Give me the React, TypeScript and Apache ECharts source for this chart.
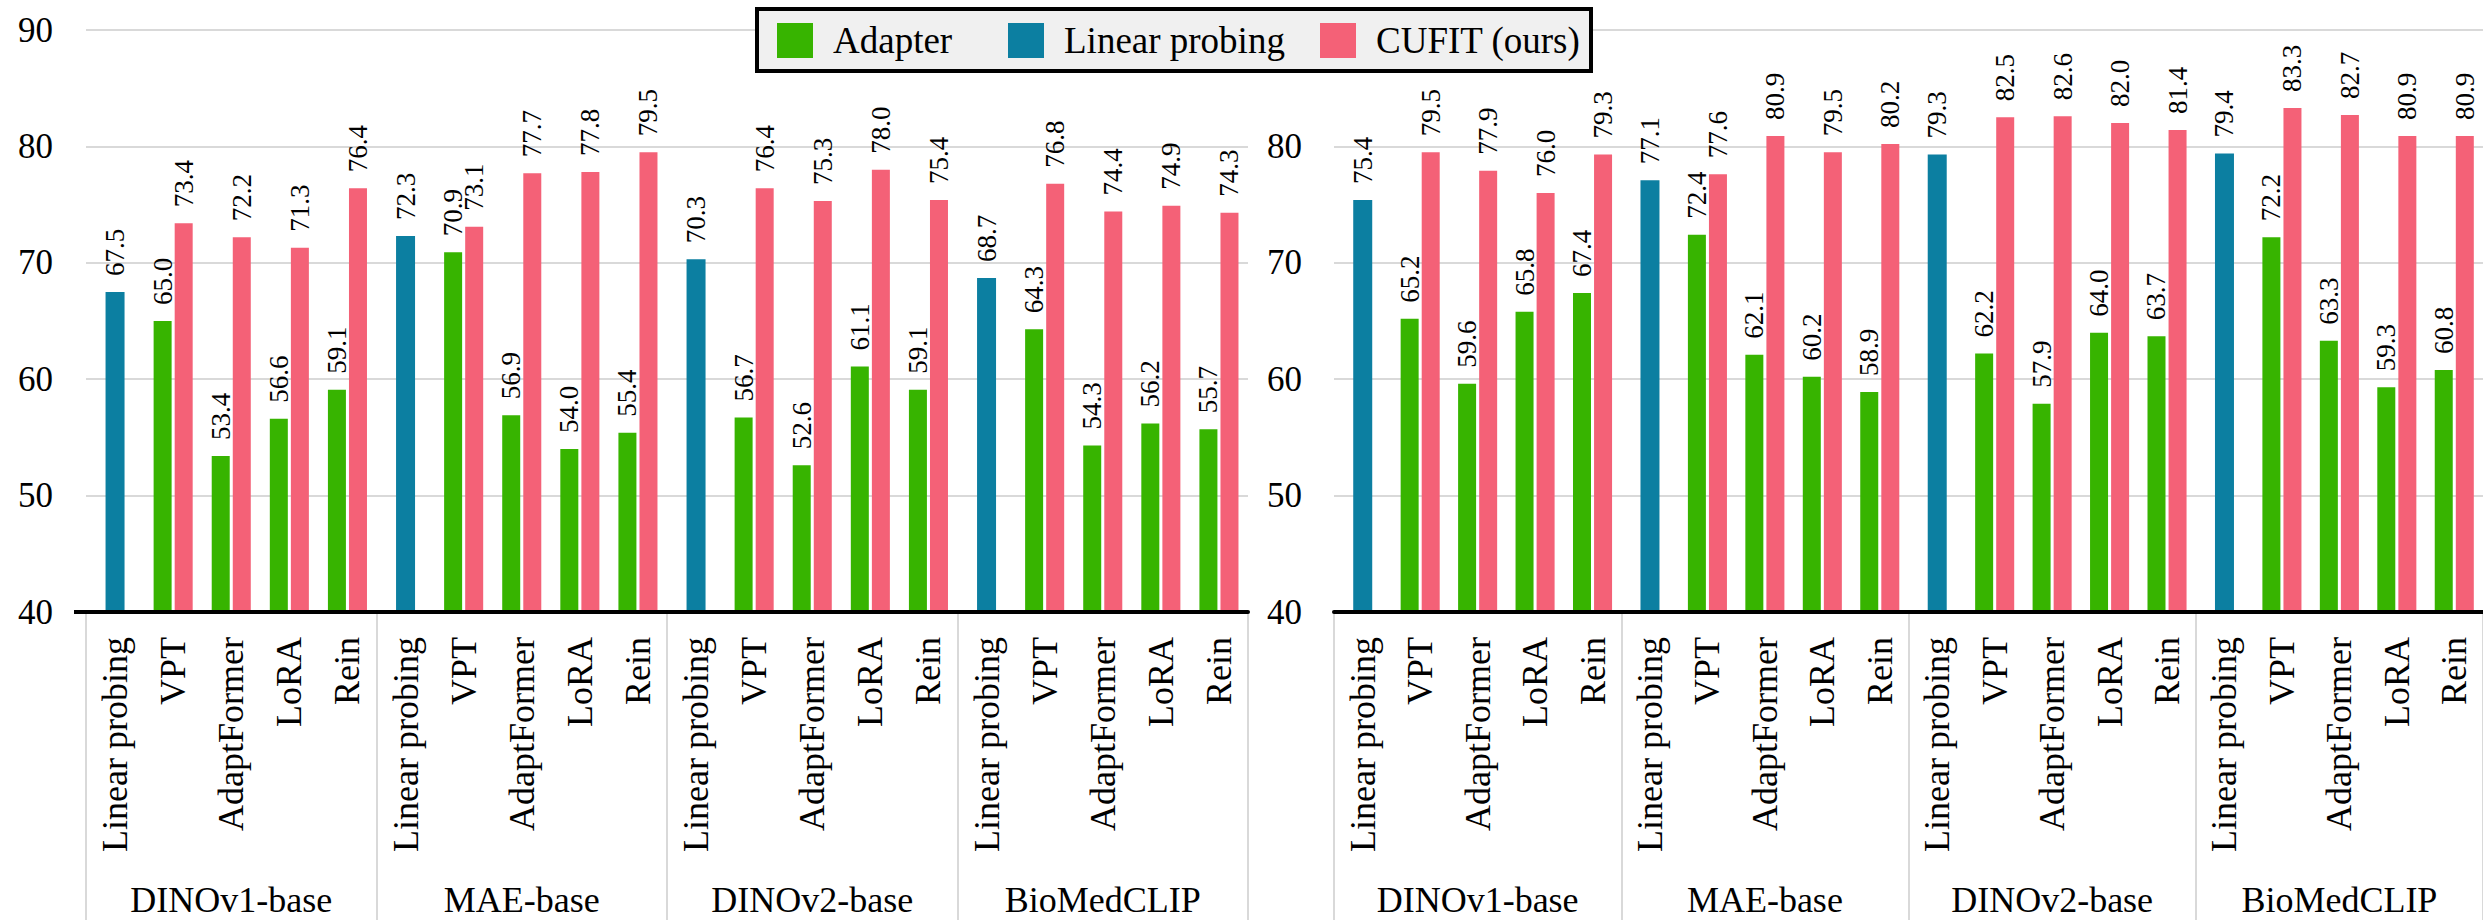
import React, { useEffect, useRef } from "react";
import * as echarts from "echarts";

// ---------- data ----------
const backbones = ["DINOv1-base", "MAE-base", "DINOv2-base", "BioMedCLIP"];
const methods = ["Linear probing", "VPT", "AdaptFormer", "LoRA", "Rein"];
const yMin = 40;
const yMax = 90;
const yStep = 10;

// left panel
const leftLinear = [67.5, 72.3, 70.3, 68.7];
const leftAdapter = [65.0, 53.4, 56.6, 59.1, 70.9, 56.9, 54.0, 55.4, 56.7, 52.6, 61.1, 59.1, 64.3, 54.3, 56.2, 55.7];
const leftCufit = [73.4, 72.2, 71.3, 76.4, 73.1, 77.7, 77.8, 79.5, 76.4, 75.3, 78.0, 75.4, 76.8, 74.4, 74.9, 74.3];

// right panel
const rightLinear = [75.4, 77.1, 79.3, 79.4];
const rightAdapter = [65.2, 59.6, 65.8, 67.4, 72.4, 62.1, 60.2, 58.9, 62.2, 57.9, 64.0, 63.7, 72.2, 63.3, 59.3, 60.8];
const rightCufit = [79.5, 77.9, 76.0, 79.3, 77.6, 80.9, 79.5, 80.2, 82.5, 82.6, 82.0, 81.4, 83.3, 82.7, 80.9, 80.9];

// ---------- style ----------
const FONT = "Liberation Serif";
const GREEN = "#37b400";
const BLUE = "#0c7fa1";
const PINK = "#f46177";
const GRID_GRAY = "#d9d9d9";

const categories = backbones.flatMap((b) => methods.map((m) => `${b}|${m}`));

function buildData(linear: number[], adapter: number[], cufit: number[]) {
  const lp: (number | string)[] = [];
  const ad: (number | string)[] = [];
  const cu: (number | string)[] = [];
  backbones.forEach((_, bi) => {
    methods.forEach((_, mi) => {
      if (mi === 0) {
        lp.push(linear[bi]);
        ad.push("-");
        cu.push("-");
      } else {
        lp.push("-");
        ad.push(adapter[bi * 4 + mi - 1]);
        cu.push(cufit[bi * 4 + mi - 1]);
      }
    });
  });
  return { lp, ad, cu };
}

const panels = [
  { left: 86, width: 1162, ...buildData(leftLinear, leftAdapter, leftCufit), yMargin: 33, showMax: true },
  { left: 1334, width: 1160, ...buildData(rightLinear, rightAdapter, rightCufit), yMargin: 32, showMax: false },
];

const barLabel = {
  show: true,
  position: "top",
  rotate: 90,
  align: "left",
  verticalAlign: "middle",
  distance: 16,
  fontSize: 27,
  fontFamily: FONT,
  color: "#000",
  formatter: (p: any) => Number(p.value).toFixed(1),
};

export default function App() {
  const ref = useRef<HTMLDivElement>(null);

  useEffect(() => {
    if (!ref.current) return;
    const chart = echarts.init(ref.current, undefined, { renderer: "svg" });

    const grid: any[] = [];
    const xAxis: any[] = [];
    const yAxis: any[] = [];
    const series: any[] = [];

    panels.forEach((p, g) => {
      grid.push({ left: p.left, width: p.width, top: 30, height: 582 });
      // method axis
      xAxis.push({
        type: "category",
        gridIndex: g,
        data: categories,
        position: "bottom",
        axisLine: { show: true, lineStyle: { color: "#000", width: 4 } },
        axisTick: { show: false },
        axisLabel: {
          rotate: 90,
          interval: 0,
          margin: 25,
          fontSize: 36,
          fontFamily: FONT,
          color: "#000",
          formatter: (v: string) => v.split("|")[1],
        },
        z: 5,
      });
      // hidden axis for the single linear-probing bar
      xAxis.push({
        type: "category",
        gridIndex: g,
        data: categories,
        position: "bottom",
        show: false,
      });
      // backbone group axis
      xAxis.push({
        type: "category",
        gridIndex: g,
        data: backbones,
        position: "bottom",
        axisLine: { show: false },
        axisTick: { show: true, length: 308, lineStyle: { color: GRID_GRAY, width: 2 } },
        axisLabel: { margin: 270, fontSize: 36, fontFamily: FONT, color: "#000", interval: 0 },
      });
      yAxis.push({
        type: "value",
        gridIndex: g,
        min: yMin,
        max: yMax,
        interval: yStep,
        axisLine: { show: false },
        axisTick: { show: false },
        splitLine: { lineStyle: { color: GRID_GRAY, width: 2 } },
        axisLabel: {
          fontSize: 35,
          margin: p.yMargin,
          fontFamily: FONT,
          color: "#000",
          showMaxLabel: p.showMax,
        },
      });
      series.push({
        type: "bar",
        name: "Adapter",
        xAxisIndex: g * 3,
        yAxisIndex: g,
        data: p.ad,
        barWidth: 18,
        barGap: "17%",
        itemStyle: { color: GREEN },
        label: barLabel,
      });
      series.push({
        type: "bar",
        name: "CUFIT (ours)",
        xAxisIndex: g * 3,
        yAxisIndex: g,
        data: p.cu,
        barWidth: 18,
        barGap: "17%",
        itemStyle: { color: PINK },
        label: barLabel,
      });
      series.push({
        type: "bar",
        name: "Linear probing",
        xAxisIndex: g * 3 + 1,
        yAxisIndex: g,
        data: p.lp,
        barWidth: 19,
        itemStyle: { color: BLUE },
        label: barLabel,
      });
    });

    const legendBase = {
      orient: "horizontal",
      top: 22,
      padding: 0,
      itemWidth: 36,
      itemHeight: 35,
      icon: "rect",
      selectedMode: false,
      z: 20,
      textStyle: { fontSize: 37, fontFamily: FONT, color: "#000", padding: [0, 0, 0, 15] },
    };

    chart.setOption({
      animation: false,
      backgroundColor: "#fff",
      grid,
      xAxis,
      yAxis,
      series,
      legend: [
        { ...legendBase, left: 777, data: ["Adapter"] },
        { ...legendBase, left: 1008, data: ["Linear probing"] },
        { ...legendBase, left: 1320, data: ["CUFIT (ours)"] },
      ],
      graphic: [
        {
          type: "rect",
          z: 10,
          shape: { x: 757, y: 9, width: 834, height: 62 },
          style: { fill: "#f0f0f0", stroke: "#000", lineWidth: 4 },
        },
        {
          type: "line",
          z: 10,
          shape: { x1: 74, y1: 612, x2: 88, y2: 612 },
          style: { stroke: "#000", lineWidth: 4 },
        },
      ],
    });

    return () => chart.dispose();
  }, []);

  return (
    <div
      ref={ref}
      style={{ position: "absolute", left: 0, top: 0, width: 2483, height: 920 }}
    />
  );
}
